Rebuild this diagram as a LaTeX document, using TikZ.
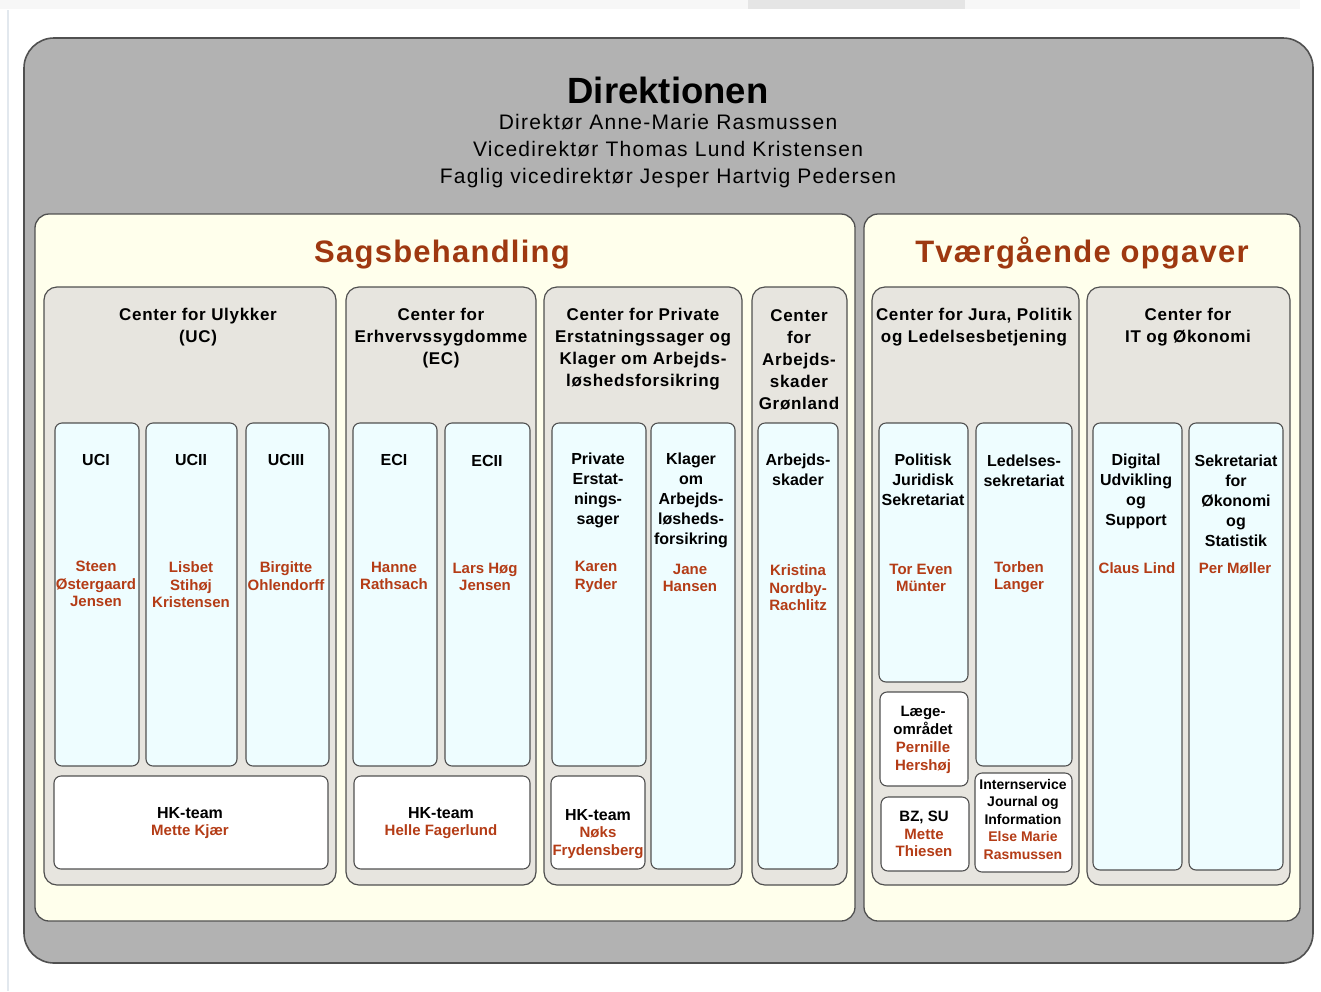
\documentclass[tikz,border=0pt]{standalone}
\usepackage{fontspec}
\setmainfont{Liberation Sans}
\newfontfamily\hdrfont[LetterSpace=4]{Liberation Sans}
\newfontfamily\dirfont[LetterSpace=6]{Liberation Sans}
\definecolor{outgray}{RGB}{178,178,178}
\definecolor{panelY}{RGB}{255,255,236}
\definecolor{ctrgray}{RGB}{231,229,223}
\definecolor{unitC}{RGB}{238,253,255}
\definecolor{ttl}{RGB}{158,56,16}
\definecolor{nm}{RGB}{180,60,22}
\definecolor{edge}{RGB}{80,80,80}
\tikzset{
  outerbox/.style={fill=outgray, draw=edge, line width=1.6pt, rounded corners=30pt},
  panelbox/.style={fill=panelY, draw=edge, line width=1.3pt, rounded corners=14pt},
  ctrbox/.style={fill=ctrgray, draw=edge, line width=1.2pt, rounded corners=13pt},
  unitbox/.style={fill=unitC, draw=edge, line width=1.1pt, rounded corners=7pt},
  hkbox/.style={fill=white, draw=edge, line width=1.1pt, rounded corners=7pt},
  ctrtxt/.style={align=center, inner sep=0pt, font=\hdrfont\bfseries\fontsize{17}{22}\selectfont},
  unittxt/.style={align=center, inner sep=0pt, font=\bfseries\fontsize{16}{20}\selectfont},
  nametxt/.style={align=center, inner sep=0pt, text=nm, font=\bfseries\fontsize{15}{17.5}\selectfont},
  smalltxt/.style={align=center, inner sep=0pt, font=\bfseries\fontsize{15}{17.8}\selectfont},
  paneltitle/.style={inner sep=0pt, anchor=base, text=ttl, font=\hdrfont\bfseries\fontsize{31}{36}\selectfont},
}
\begin{document}
\begin{tikzpicture}[x=1pt,y=-1pt]
\useasboundingbox (0,0) rectangle (1321,991);
% screenshot edge artifacts
\fill[black!3] (0,0) rectangle (1300,9);
\fill[black!10] (748,0) rectangle (965,9);
\draw[color={rgb,255:red,226;green,232;blue,238}, line width=2pt] (8,10) -- (8,991);
% outer
\path[outerbox] (24,38) rectangle (1313,963);
\node[inner sep=0pt, anchor=base, font=\bfseries\fontsize{36.5}{40}\selectfont] (dir) at (668,103) {Direktionen};
\node[align=center, inner sep=0pt, font=\dirfont\fontsize{21}{27}\selectfont] (dirnames) at (668,151)
  {Direktør Anne-Marie Rasmussen\\Vicedirektør Thomas Lund Kristensen\\Faglig vicedirektør Jesper Hartvig Pedersen};
% panels
\path[panelbox] (35,214) rectangle (855,921);
\path[panelbox] (864,214) rectangle (1300,921);
\node[paneltitle] (sags) at (442,262) {Sagsbehandling};
\node[paneltitle] (tvaer) at (1082,262) {Tværgående opgaver};
% centers
\path[ctrbox] (44,287) rectangle (336,885);
\path[ctrbox] (346,287) rectangle (536,885);
\path[ctrbox] (544,287) rectangle (742,885);
\path[ctrbox] (752,287) rectangle (847,885);
\path[ctrbox] (872,287) rectangle (1079,885);
\path[ctrbox] (1087,287) rectangle (1290,885);
\node[ctrtxt] (uc) at (198,327) {Center for Ulykker\\(UC)};
\node[ctrtxt] (ec) at (441,338) {Center for\\Erhvervssygdomme\\(EC)};
\node[ctrtxt] (pr) at (643,349) {Center for Private\\Erstatningssager og\\Klager om Arbejds-\\løshedsforsikring};
\node[ctrtxt] (gr) at (799,360) {Center\\for\\Arbejds-\\skader\\Grønland};
\node[ctrtxt] (ju) at (974,327) {Center for Jura, Politik\\og Ledelsesbetjening};
\node[ctrtxt] (it) at (1188,327) {Center for\\IT og Økonomi};
% units
\path[unitbox] (55,423) rectangle (139,766);
\path[unitbox] (146,423) rectangle (237,766);
\path[unitbox] (246,423) rectangle (329,766);
\path[unitbox] (353,423) rectangle (437,766);
\path[unitbox] (445,423) rectangle (530,766);
\path[unitbox] (552,423) rectangle (646,766);
\path[unitbox] (651,423) rectangle (735,869);
\path[unitbox] (758,423) rectangle (838,869);
\path[unitbox] (879,423) rectangle (968,682);
\path[unitbox] (976,423) rectangle (1072,766);
\path[unitbox] (1093,423) rectangle (1182,870);
\path[unitbox] (1189,423) rectangle (1283,870);
% hk boxes
\path[hkbox] (54,776) rectangle (328,869);
\path[hkbox] (354,776) rectangle (530,869);
\path[hkbox] (551,776) rectangle (645,869);
\path[hkbox] (880,692) rectangle (968,786);
\path[hkbox] (881,797) rectangle (969,871);
\path[hkbox] (975,773) rectangle (1072,872);
% unit titles
\node[unittxt] (uci) at (96,460) {UCI};
\node[unittxt] (ucii) at (191,460) {UCII};
\node[unittxt] (uciii) at (286,460) {UCIII};
\node[unittxt] (eci) at (394,460) {ECI};
\node[unittxt] (ecii) at (487,461) {ECII};
\node[unittxt] (pe) at (598,490) {Private\\Erstat-\\nings-\\sager};
\node[unittxt] (kl) at (691,500) {Klager\\om\\Arbejds-\\løsheds-\\forsikring};
\node[unittxt] (as) at (798,470) {Arbejds-\\skader};
\node[unittxt] (pj) at (923,480) {Politisk\\Juridisk\\Sekretariat};
\node[unittxt] (ls) at (1024,471) {Ledelses-\\sekretariat};
\node[unittxt] (du) at (1136,491) {Digital\\Udvikling\\og\\Support};
\node[unittxt] (so) at (1236,501) {Sekretariat\\for\\Økonomi\\og\\Statistik};
% names
\node[nametxt] (n1) at (96,584) {Steen\\Østergaard\\Jensen};
\node[nametxt] (n2) at (191,585) {Lisbet\\Stihøj\\Kristensen};
\node[nametxt] (n3) at (286,576) {Birgitte\\Ohlendorff};
\node[nametxt] (n4) at (394,576) {Hanne\\Rathsach};
\node[nametxt] (n5) at (485,577) {Lars Høg\\Jensen};
\node[nametxt] (n6) at (596,577) {Karen\\Ryder};
\node[nametxt] (n7) at (690,578) {Jane\\Hansen};
\node[nametxt] (n8) at (798,588) {Kristina\\Nordby-\\Rachlitz};
\node[nametxt] (n9) at (921,578) {Tor Even\\Münter};
\node[nametxt] (n10) at (1019,577) {Torben\\Langer};
\node[nametxt] (n11) at (1137,568) {Claus Lind};
\node[nametxt] (n12) at (1235,568) {Per Møller};
% hk texts
\node[smalltxt] (hk1) at (190,823) {\fontsize{16}{18}\selectfont HK-team\\\textcolor{nm}{Mette Kjær}};
\node[smalltxt] (hk2) at (441,823) {\fontsize{16}{18}\selectfont HK-team\\\textcolor{nm}{Helle Fagerlund}};
\node[smalltxt] (hk3) at (598,834) {\fontsize{16}{18.5}\selectfont HK-team\\\textcolor{nm}{Nøks}\\\textcolor{nm}{Frydensberg}};
\node[smalltxt] (lg) at (923,740) {Læge-\\området\\\textcolor{nm}{Pernille}\\\textcolor{nm}{Hershøj}};
\node[smalltxt] (bz) at (924,834) {BZ, SU\\\textcolor{nm}{Mette}\\\textcolor{nm}{Thiesen}};
\node[smalltxt, font=\bfseries\fontsize{14}{17.5}\selectfont] (isv) at (1023,819) {Internservice\\Journal og\\Information\\\textcolor{nm}{Else Marie}\\\textcolor{nm}{Rasmussen}};
\end{tikzpicture}
\end{document}
